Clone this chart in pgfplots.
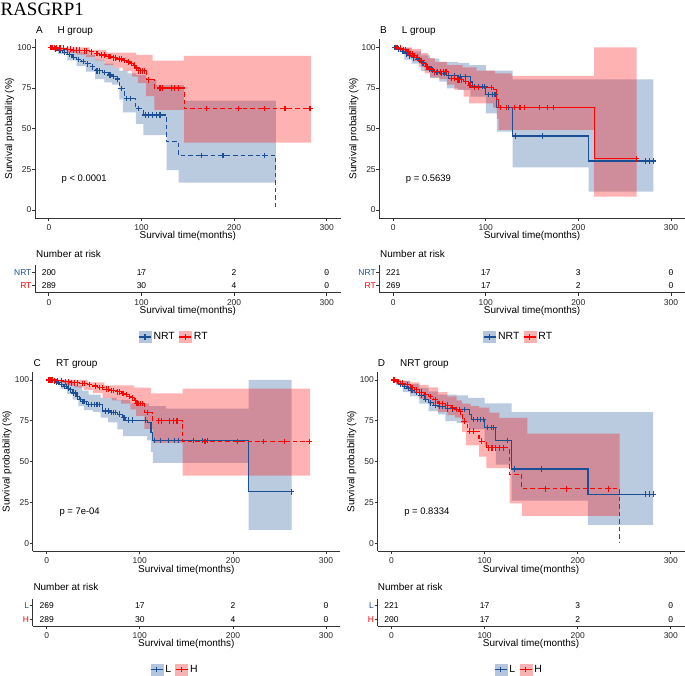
\documentclass[border=0pt]{standalone}
\usepackage{fontspec}
\setmainfont{Liberation Sans}
\newfontfamily\titlefont{Liberation Serif}
\usepackage{pgfplots}
\pgfplotsset{compat=1.18}
\usepackage{pgfplotstable}
\usepgfplotslibrary{fillbetween}

\definecolor{nrtblue}{HTML}{1B4F95}
\definecolor{rtred}{HTML}{FF0000}
\definecolor{axisgrey}{HTML}{333333}
\definecolor{bandblue}{HTML}{B4C6DD}
\definecolor{bandred}{HTML}{F8B2B2}

% ---- H group, RT (n=289) ----
\pgfplotstableread{
x y
0 100
10 99.5
18 98.8
25 98.3
35 97.8
44 97.2
50 96.3
55 95.3
62 94.3
68 93.6
74 92.8
80 91.8
84 91.0
88 90.0
91 89.0
94 87.3
96 85.5
105 80
114 75
146 62.3
283 62.3
}\hrtline
\pgfplotstableread{
x y
0 100
35 100
44 98.5
62 96.7
94 95.3
112 91.8
146 94.7
283 94.7
}\hrtup
\pgfplotstableread{
x y
0 100
10 98
20 96.5
30 95.5
40 94
50 92
60 89
70 87.5
80 85.5
90 82
96 78
105 70
114 61.5
146 41.4
283 41.4
}\hrtlo
\pgfplotstableread{
x y
2 100
4 100
6 100
8 99.5
12 99.5
16 99.5
20 98.8
23 98.8
27 98.3
30 98.3
33 98.3
38 97.8
41 97.8
46 97.2
52 96.3
57 95.3
60 95.3
64 94.3
66 94.3
70 93.6
72 93.6
76 92.8
78 92.8
82 91.8
86 91.0
89 90.0
92 89.0
95 87.3
97 85.5
99 85.5
101 85.5
103 85.5
108 80
120 75
123 75
132 75
136 75
140 75
170 62.3
205 62.3
233 62.3
255 62.3
282 62.3
}\hrtcens

% ---- H group, NRT (n=200) ----
\pgfplotstableread{
x y
0 100
5 99
10 98
15 97
20 95.5
25 94
30 92.5
35 91.2
40 89.8
45 88
50 85.5
58 84.5
64 83
68 82
72 80.5
76 74.8
82 68.6
94 62.5
102 58.4
127 42
140 33.4
245 0
}\hnrtline
\pgfplotstableread{
x y
0 100
10 99.5
20 98.5
30 97
40 95.5
50 92.5
60 90
70 87.5
76 85.5
85 84
94 83
105 80
116 76.8
146 67.2
245 67.2
}\hnrtup
\pgfplotstableread{
x y
0 100
5 97.5
10 96
20 92
30 88.5
40 85
50 80.5
60 78.5
68 77
76 68
80 60
94 53
102 46
127 24.5
140 16.8
245 16.8
}\hnrtlo
\pgfplotstableread{
x y
3 100
7 99
12 98
17 97
22 95.5
27 94
32 92.5
37 91.2
42 89.8
47 88
52 85.5
55 85.5
60 84.5
66 83
70 82
74 80.5
78 74.8
84 68.6
88 68.6
97 62.5
104 58.4
108 58.4
112 58.4
116 58.4
120 58.4
165 33.4
188 33.4
233 33.4
}\hnrtcens

% ---- L group, RT (n=269) ----
\pgfplotstableread{
x y
0 100
6 99.5
10 98.5
14 97.3
18 96
22 95
25 94
28 92
32 90
35 88
38 86.7
43 85
60 81
68 80
76 79
81 76.8
85 75.4
108 74
112 68
114 63
217 31.5
263 31.5
}\lrtline
\pgfplotstableread{
x y
0 100
20 99
30 96.5
38 93.5
45 91
58 89
75 87.7
90 85.7
110 84
128 82.4
217 100
263 100
}\lrtup
\pgfplotstableread{
x y
0 100
8 98
15 94.5
22 91.5
28 88
34 84
40 81.5
50 80.5
58 77
66 74
76 69.7
82 65.6
108 63
112 56
114 49.2
217 8.2
263 8.2
}\lrtlo
\pgfplotstableread{
x y
3 100
5 100
8 99.5
11 98.5
13 98.5
16 97.3
19 96
21 96
23 95
26 94
29 92
31 92
33 90
36 88
39 86.7
41 86.7
45 85
48 85
51 85
54 85
57 85
63 81
66 81
70 80
72 80
74 80
78 79
83 76.8
88 75.4
92 75.4
106 75.4
116 63
122 63
131 63
137 63
142 63
158 63
167 63
173 63
263 31.5
}\lrtcens

% ---- L group, NRT (n=221) ----
\pgfplotstableread{
x y
0 100
4 99
8 97.5
12 96
16 94.8
20 93.5
25 92.5
30 90.5
35 88
40 86
45 84.5
50 84
58 82.4
70 82
83.5 78.7
86 75.8
100 71
112 63
129 45.5
211 30.1
281 30.1
}\lnrtline
\pgfplotstableread{
x y
0 100
10 99.5
20 97.5
30 95
40 93
50 91
70 90.5
82 89
100 85.7
129 80.3
281 80.3
}\lnrtup
\pgfplotstableread{
x y
0 100
5 97
12 92.5
20 90
30 85.5
40 81
50 78.9
58 74.8
70 73.8
83.5 69.7
100 59.4
112 48.2
129 26.2
211 11.3
281 11.3
}\lnrtlo
\pgfplotstableread{
x y
2 100
6 99
10 97.5
14 96
18 94.8
22 93.5
27 92.5
32 90.5
37 88
42 86
47 84.5
52 84
55 84
60 82.4
66 82.4
73 82
78 82
88 75.8
92 75.8
96 75.8
99 75.8
103 71
107 71
110 71
125 63
132 45.5
161 45.5
273 30.1
277 30.1
281 30.1
}\lnrtcens

% ---- numbers at risk (row 2 = upper stratum, row 1 = lower) ----
\pgfplotstableread{
x y n
0 2 200
100 2 17
200 2 2
300 2 0
0 1 289
100 1 30
200 1 4
300 1 0
}\riskA
\pgfplotstableread{
x y n
0 2 221
100 2 17
200 2 3
300 2 0
0 1 269
100 1 17
200 1 2
300 1 0
}\riskB
\pgfplotstableread{
x y n
0 2 269
100 2 17
200 2 2
300 2 0
0 1 289
100 1 30
200 1 4
300 1 0
}\riskC
\pgfplotstableread{
x y n
0 2 221
100 2 17
200 2 3
300 2 0
0 1 200
100 1 17
200 1 2
300 1 0
}\riskD

\pgfplotsset{
  common/.style={
    scale only axis, anchor=south west,
    xmin=-15, xmax=315,
    xtick={0,100,200,300},
    axis x line*=bottom, axis y line*=left,
    axis line style={axisgrey, line width=0.8bp, -},
    tick style={axisgrey, line width=0.8bp},
    major tick length=3bp, tick align=outside,
    tick label style={font=\fontsize{8.5}{10}\selectfont, text=black!85},
    yticklabel style={inner xsep=0.4bp},
    /pgf/number format/assume math mode=true,
    label style={font=\fontsize{9.5}{11}\selectfont},
    every axis x label/.style={at={(axis description cs:0.5,0)}, anchor=center, yshift=-18bp},
    xlabel={Survival time(months)},
  },
  kmaxis/.style={common,
    ymin=-5, ymax=105, ytick={0,25,50,75,100},
    every axis y label/.style={at={(axis description cs:-0.0834,0.5)}, rotate=90, anchor=center},
    ylabel={Survival probability (\%)},
  },
  riskaxis/.style={common,
    ymin=0.5, ymax=2.5, ytick={1,2},
    legend style={draw=none, fill=none, legend columns=2,
      font=\fontsize{10.5}{12}\selectfont, inner sep=0pt,
      /tikz/every even column/.append style={column sep=2bp}},
  },
  kmline/.style={line width=1.1bp, const plot, forget plot},
  kmdash/.style={dash pattern=on 4.5bp off 3bp},
  kmcens/.style={only marks, mark=+, mark size=2.8bp,
    mark options={line width=1.1bp, solid}, forget plot},
  risknum/.style={only marks, mark=*, mark size=0.1pt,
    scatter/use mapped color={draw=none, fill=none},
    forget plot, nodes near coords, point meta=explicit symbolic,
    every node near coord/.append style={anchor=center, inner sep=0pt,
      font=\fontsize{8.5}{10}\selectfont, text=black}},
}
\newcommand{\kmband}[4]{%
  \addplot[name path=#4u, draw=none, const plot, forget plot] table {#1};
  \addplot[name path=#4l, draw=none, const plot, forget plot] table {#2};
  \addplot[fill=#3, fill opacity=0.3, draw=none, forget plot] fill between[of=#4u and #4l];
}
\newcommand{\keyblue}{\addlegendimage{legend image code/.code={
  \fill[bandblue] (0bp,-5.5bp) rectangle (12bp,5.5bp);
  \draw[nrtblue, line width=1.1bp] (0bp,0bp) -- (12bp,0bp) (6bp,-2.6bp) -- (6bp,2.6bp);}}}
\newcommand{\keyred}{\addlegendimage{legend image code/.code={
  \fill[bandred] (0bp,-5.5bp) rectangle (12bp,5.5bp);
  \draw[rtred, line width=1.1bp] (0bp,0bp) -- (12bp,0bp) (6bp,-2.6bp) -- (6bp,2.6bp);}}}
\tikzset{
  pval/.style={anchor=west, font=\fontsize{9.5}{11}\selectfont},
  ptitle/.style={anchor=base west, inner sep=0pt, font=\fontsize{10}{12}\selectfont},
}

\begin{document}
\begin{tikzpicture}

\node[anchor=base west, inner sep=0pt, font=\titlefont\fontsize{19}{21}\selectfont] at (0.5bp,660.5bp) {RASGRP1};

% ---------- A : H group ----------
\node[ptitle] at (36bp,642.4bp) {A};
\node[ptitle] at (57.3bp,642.4bp) {H group};
\begin{axis}[kmaxis, at={(35bp,457.9bp)}, width=305.6bp, height=178.9bp]
  \kmband{\hnrtup}{\hnrtlo}{nrtblue}{a1}
  \kmband{\hrtup}{\hrtlo}{rtred}{a2}
  \addplot[nrtblue, kmline, kmdash] table {\hnrtline};
  \addplot[nrtblue, kmcens] table {\hnrtcens};
  \addplot[rtred, kmline, kmdash] table {\hrtline};
  \addplot[rtred, kmcens] table {\hrtcens};
  \node[pval] at (axis cs:10,19) {p < 0.0001};
\end{axis}
\node[ptitle] at (36bp,418.4bp) {Number at risk};
\begin{axis}[riskaxis, at={(35bp,383.3bp)}, width=305.6bp, height=27.2bp,
  yticklabels={\textcolor{rtred}{RT},\textcolor{nrtblue}{NRT}},
  legend style={at={(0.455,-1.63)}, anchor=center}]
  \addplot[risknum] table[meta=n] {\riskA};
  \keyblue \addlegendentry{NRT}
  \keyred \addlegendentry{RT}
\end{axis}

% ---------- B : L group ----------
\node[ptitle] at (380bp,642.4bp) {B};
\node[ptitle] at (401.7bp,642.4bp) {L group};
\begin{axis}[kmaxis, at={(379.3bp,457.9bp)}, width=305.5bp, height=178.9bp]
  \kmband{\lnrtup}{\lnrtlo}{nrtblue}{b1}
  \kmband{\lrtup}{\lrtlo}{rtred}{b2}
  \addplot[nrtblue, kmline] table {\lnrtline};
  \addplot[nrtblue, kmcens] table {\lnrtcens};
  \addplot[rtred, kmline] table {\lrtline};
  \addplot[rtred, kmcens] table {\lrtcens};
  \node[pval] at (axis cs:10,19) {p = 0.5639};
\end{axis}
\node[ptitle] at (380bp,418.4bp) {Number at risk};
\begin{axis}[riskaxis, at={(379.3bp,383.3bp)}, width=305.5bp, height=27.2bp,
  yticklabels={\textcolor{rtred}{RT},\textcolor{nrtblue}{NRT}},
  legend style={at={(0.456,-1.63)}, anchor=center}]
  \addplot[risknum] table[meta=n] {\riskB};
  \keyblue \addlegendentry{NRT}
  \keyred \addlegendentry{RT}
\end{axis}

% ---------- C : RT group ----------
\node[ptitle] at (33.3bp,309.1bp) {C};
\node[ptitle] at (56bp,309.1bp) {RT group};
\begin{axis}[kmaxis, at={(32.7bp,124.5bp)}, width=307.3bp, height=179.7bp]
  \kmband{\lrtup}{\lrtlo}{nrtblue}{c1}
  \kmband{\hrtup}{\hrtlo}{rtred}{c2}
  \addplot[nrtblue, kmline] table {\lrtline};
  \addplot[nrtblue, kmcens] table {\lrtcens};
  \addplot[rtred, kmline, kmdash] table {\hrtline};
  \addplot[rtred, kmcens] table {\hrtcens};
  \node[pval] at (axis cs:10,19) {p = 7e-04};
\end{axis}
\node[ptitle] at (33.3bp,85.7bp) {Number at risk};
\begin{axis}[riskaxis, at={(32.7bp,49.9bp)}, width=307.3bp, height=27.2bp,
  yticklabels={\textcolor{rtred}{H},\textcolor{nrtblue}{L}},
  legend style={at={(0.463,-1.61)}, anchor=center}]
  \addplot[risknum] table[meta=n] {\riskC};
  \keyblue \addlegendentry{L}
  \keyred \addlegendentry{H}
\end{axis}

% ---------- D : NRT group ----------
\node[ptitle] at (377.7bp,309.1bp) {D};
\node[ptitle] at (400bp,309.1bp) {NRT group};
\begin{axis}[kmaxis, at={(377.5bp,124.5bp)}, width=307.3bp, height=179.7bp]
  \kmband{\lnrtup}{\lnrtlo}{nrtblue}{d1}
  \kmband{\hnrtup}{\hnrtlo}{rtred}{d2}
  \addplot[nrtblue, kmline] table {\lnrtline};
  \addplot[nrtblue, kmcens] table {\lnrtcens};
  \addplot[rtred, kmline, kmdash] table {\hnrtline};
  \addplot[rtred, kmcens] table {\hnrtcens};
  \node[pval] at (axis cs:10,19) {p = 0.8334};
\end{axis}
\node[ptitle] at (377.7bp,85.7bp) {Number at risk};
\begin{axis}[riskaxis, at={(377.5bp,49.9bp)}, width=307.3bp, height=27.2bp,
  yticklabels={\textcolor{rtred}{H},\textcolor{nrtblue}{L}},
  legend style={at={(0.461,-1.61)}, anchor=center}]
  \addplot[risknum] table[meta=n] {\riskD};
  \keyblue \addlegendentry{L}
  \keyred \addlegendentry{H}
\end{axis}

\pgfresetboundingbox
\path[use as bounding box] (0,0) rectangle (685bp,676bp);
\end{tikzpicture}
\end{document}
